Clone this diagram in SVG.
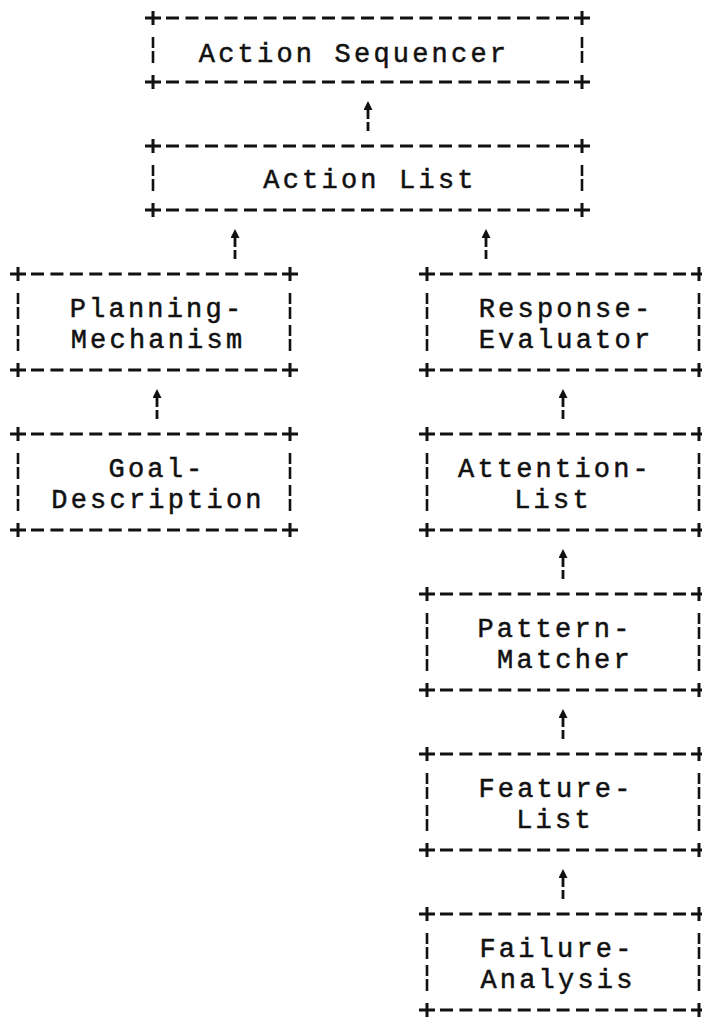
<svg xmlns="http://www.w3.org/2000/svg" width="702" height="1019" viewBox="0 0 702 1019">
<style>
  .t { font-family: "Liberation Mono", "Courier New", monospace; font-size: 27px; letter-spacing: 3.2px; fill: #111; stroke: #111; stroke-width: 0.5; text-anchor: middle; }
  .c { stroke: #111; stroke-width: 3; fill: none; }
  .h { stroke: #111; stroke-width: 3; fill: none; stroke-dasharray: 13 6.43; }
  .hw { stroke: #111; stroke-width: 3; fill: none; stroke-dasharray: 13 6.5; }
  .v { stroke: #111; stroke-width: 2.6; fill: none; stroke-dasharray: 11 3 12 6; }
  .a { stroke: #111; stroke-width: 2.8; fill: none; stroke-dasharray: 9 3; marker-end: url(#ah); }
</style>
<defs>
  <marker id="ah" viewBox="0 0 9 9" refX="0" refY="4.5" markerWidth="9" markerHeight="9" orient="auto" markerUnits="userSpaceOnUse">
    <path d="M0,0 L9,4.5 L0,9 z" fill="#111"/>
  </marker>
</defs>
<rect width="702" height="1019" fill="#fff"/>

<g id="n-action-sequencer">
  <path class="c" d="M145,18 h16 M153,11 v14 M574,18 h16 M582,11 v14 M145,82 h16 M153,75 v14 M574,82 h16 M582,75 v14"/>
  <line class="hw" x1="166" y1="18" x2="569" y2="18"/>
  <line class="hw" x1="166" y1="82" x2="569" y2="82"/>
  <line class="v" x1="153" y1="37" x2="153" y2="63"/>
  <line class="v" x1="582" y1="37" x2="582" y2="63"/>
  <text class="t" x="354" y="62">Action Sequencer</text>
</g>

<g id="n-action-list">
  <path class="c" d="M145,146 h16 M153,139 v14 M574,146 h16 M582,139 v14 M145,210 h16 M153,203 v14 M574,210 h16 M582,203 v14"/>
  <line class="hw" x1="166" y1="146" x2="569" y2="146"/>
  <line class="hw" x1="166" y1="210" x2="569" y2="210"/>
  <line class="v" x1="153" y1="165" x2="153" y2="191"/>
  <line class="v" x1="582" y1="165" x2="582" y2="191"/>
  <text class="t" x="370" y="188">Action List</text>
</g>

<g id="n-planning-mechanism">
  <path class="c" d="M10,274 h16 M18,267 v14 M282,274 h16 M290,267 v14 M10,370 h16 M18,363 v14 M282,370 h16 M290,363 v14"/>
  <line class="h" x1="31" y1="274" x2="277" y2="274"/>
  <line class="h" x1="31" y1="370" x2="277" y2="370"/>
  <line class="v" x1="18" y1="293" x2="18" y2="351"/>
  <line class="v" x1="290" y1="293" x2="290" y2="351"/>
  <text class="t" x="157" y="317">Planning-</text>
  <text class="t" x="158" y="348">Mechanism</text>
</g>

<g id="n-goal-description">
  <path class="c" d="M10,434 h16 M18,427 v14 M282,434 h16 M290,427 v14 M10,530 h16 M18,523 v14 M282,530 h16 M290,523 v14"/>
  <line class="h" x1="31" y1="434" x2="277" y2="434"/>
  <line class="h" x1="31" y1="530" x2="277" y2="530"/>
  <line class="v" x1="18" y1="453" x2="18" y2="511"/>
  <line class="v" x1="290" y1="453" x2="290" y2="511"/>
  <text class="t" x="157" y="477">Goal-</text>
  <text class="t" x="158" y="508">Description</text>
</g>

<g id="n-response-evaluator">
  <path class="c" d="M419,274 h16 M427,267 v14 M691,274 h16 M699,267 v14 M419,370 h16 M427,363 v14 M691,370 h16 M699,363 v14"/>
  <line class="h" x1="440" y1="274" x2="686" y2="274"/>
  <line class="h" x1="440" y1="370" x2="686" y2="370"/>
  <line class="v" x1="427" y1="293" x2="427" y2="351"/>
  <line class="v" x1="699" y1="293" x2="699" y2="351"/>
  <text class="t" x="566" y="317">Response-</text>
  <text class="t" x="566" y="348">Evaluator</text>
</g>

<g id="n-attention-list">
  <path class="c" d="M419,434 h16 M427,427 v14 M691,434 h16 M699,427 v14 M419,530 h16 M427,523 v14 M691,530 h16 M699,523 v14"/>
  <line class="h" x1="440" y1="434" x2="686" y2="434"/>
  <line class="h" x1="440" y1="530" x2="686" y2="530"/>
  <line class="v" x1="427" y1="453" x2="427" y2="511"/>
  <line class="v" x1="699" y1="453" x2="699" y2="511"/>
  <text class="t" x="555" y="477">Attention-</text>
  <text class="t" x="553" y="508">List</text>
</g>

<g id="n-pattern-matcher">
  <path class="c" d="M419,594 h16 M427,587 v14 M691,594 h16 M699,587 v14 M419,690 h16 M427,683 v14 M691,690 h16 M699,683 v14"/>
  <line class="h" x1="440" y1="594" x2="686" y2="594"/>
  <line class="h" x1="440" y1="690" x2="686" y2="690"/>
  <line class="v" x1="427" y1="613" x2="427" y2="671"/>
  <line class="v" x1="699" y1="613" x2="699" y2="671"/>
  <text class="t" x="555" y="637">Pattern-</text>
  <text class="t" x="565" y="668">Matcher</text>
</g>

<g id="n-feature-list">
  <path class="c" d="M419,754 h16 M427,747 v14 M691,754 h16 M699,747 v14 M419,850 h16 M427,843 v14 M691,850 h16 M699,843 v14"/>
  <line class="h" x1="440" y1="754" x2="686" y2="754"/>
  <line class="h" x1="440" y1="850" x2="686" y2="850"/>
  <line class="v" x1="427" y1="773" x2="427" y2="831"/>
  <line class="v" x1="699" y1="773" x2="699" y2="831"/>
  <text class="t" x="556" y="797">Feature-</text>
  <text class="t" x="555" y="828">List</text>
</g>

<g id="n-failure-analysis">
  <path class="c" d="M419,914 h16 M427,907 v14 M691,914 h16 M699,907 v14 M419,1010 h16 M427,1003 v14 M691,1010 h16 M699,1003 v14"/>
  <line class="h" x1="440" y1="914" x2="686" y2="914"/>
  <line class="h" x1="440" y1="1010" x2="686" y2="1010"/>
  <line class="v" x1="427" y1="933" x2="427" y2="991"/>
  <line class="v" x1="699" y1="933" x2="699" y2="991"/>
  <text class="t" x="557" y="957">Failure-</text>
  <text class="t" x="558" y="988">Analysis</text>
</g>

<g id="connectors">
  <line class="a" x1="368" y1="131" x2="368" y2="110"/>
  <line class="a" x1="235" y1="259" x2="235" y2="238"/>
  <line class="a" x1="486" y1="259" x2="486" y2="238"/>
  <line class="a" x1="157" y1="419" x2="157" y2="398"/>
  <line class="a" x1="563" y1="419" x2="563" y2="398"/>
  <line class="a" x1="563" y1="579" x2="563" y2="558"/>
  <line class="a" x1="563" y1="739" x2="563" y2="718"/>
  <line class="a" x1="563" y1="899" x2="563" y2="878"/>
</g>
</svg>
